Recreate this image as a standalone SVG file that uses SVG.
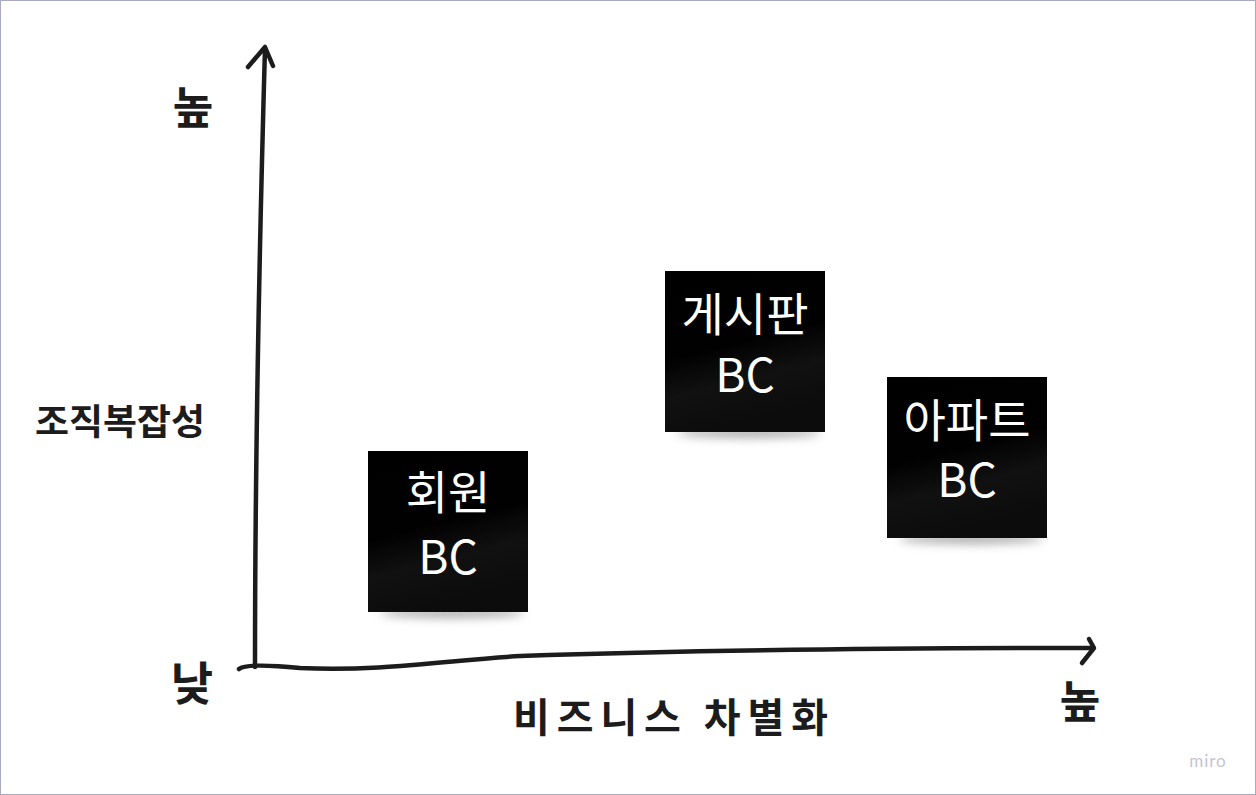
<svg xmlns="http://www.w3.org/2000/svg" width="1256" height="795" viewBox="0 0 1256 795">
<style>
.hand{font-family:"Noto Sans CJK KR","Noto Sans",sans-serif;font-weight:700;fill:#1c1c1c}
.note-t{font-family:"Noto Sans CJK KR","Noto Sans",sans-serif;font-size:46px;fill:#ffffff;text-anchor:middle}
.ax{fill:none;stroke:#1c1c1c;stroke-width:4.5;stroke-linecap:round;stroke-linejoin:round}
</style>
<defs>
<linearGradient id="ng" x1="0" y1="0" x2="0.25" y2="1">
<stop offset="0" stop-color="#000"/>
<stop offset="0.52" stop-color="#010101"/>
<stop offset="0.75" stop-color="#111111"/>
<stop offset="1" stop-color="#0c0c0c"/>
</linearGradient>
<filter id="sh" x="-30%" y="-200%" width="160%" height="500%">
<feGaussianBlur stdDeviation="5"/>
</filter>
</defs>
<rect x="0.5" y="0.5" width="1255" height="794" fill="#ffffff" stroke="#a9a9c2" stroke-width="1"/>
<g id="connectors">
<path class="ax" d="M255,667 C255,520 257,330 265,48"/>
<path class="ax" d="M248,67 L265,47 L273,66"/>
<path class="ax" d="M239,669 C245,664 270,665 300,668 C380,672 450,660 520,656 C700,650 900,648 1092,648"/>
<path class="ax" d="M1089,639 L1094,648 L1082,663"/>
</g>
<g id="note-member">
<ellipse cx="452" cy="613" rx="72" ry="5" fill="#888" opacity="0.7" filter="url(#sh)"/>
<rect x="368" y="451" width="160" height="161" fill="url(#ng)"/>
<text class="note-t" x="448" y="509">회원</text>
<text class="note-t" x="448" y="574">BC</text>
</g>
<g id="note-board">
<ellipse cx="749" cy="433" rx="72" ry="5" fill="#888" opacity="0.7" filter="url(#sh)"/>
<rect x="665" y="271" width="160" height="161" fill="url(#ng)"/>
<text class="note-t" x="745" y="331">게시판</text>
<text class="note-t" x="745" y="392">BC</text>
</g>
<g id="note-apt">
<ellipse cx="971" cy="539" rx="72" ry="5" fill="#888" opacity="0.7" filter="url(#sh)"/>
<rect x="887" y="377" width="160" height="161" fill="url(#ng)"/>
<text class="note-t" x="967" y="437">아파트</text>
<text class="note-t" x="967" y="497">BC</text>
</g>
<g id="labels">
<text class="hand" x="193" y="124" font-size="44" text-anchor="middle">높</text>
<text class="hand" x="35" y="435" font-size="36" textLength="170" lengthAdjust="spacingAndGlyphs">조직복잡성</text>
<text class="hand" x="192" y="700" font-size="46" text-anchor="middle">낮</text>
<text class="hand" x="513" y="732" font-size="40" textLength="315" lengthAdjust="spacing">비즈니스 차별화</text>
<text class="hand" x="1080" y="718" font-size="44" text-anchor="middle">높</text>
<text x="1208" y="767" font-family="Lato,'Noto Sans',sans-serif" font-size="17" fill="#c4c4d4" text-anchor="middle" letter-spacing="1">miro</text>
</g>
</svg>
